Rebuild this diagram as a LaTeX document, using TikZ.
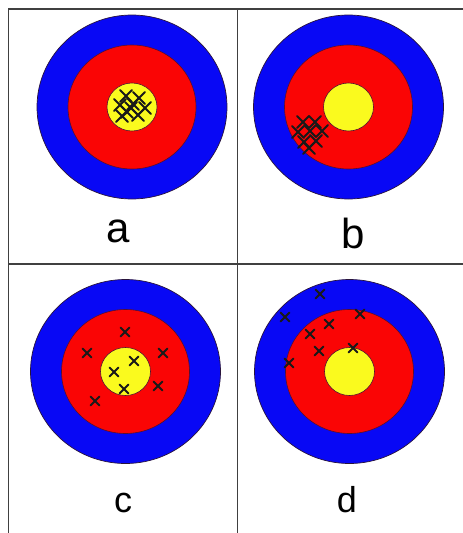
\documentclass[tikz,border=0pt]{standalone}
\usepackage{fontspec}
\setmainfont{Liberation Sans}
\definecolor{tblue}{RGB}{8,8,245}
\definecolor{tred}{RGB}{250,5,5}
\definecolor{tyellow}{RGB}{250,250,30}
\definecolor{tedge}{RGB}{40,20,60}
\tikzset{
  frameline/.style={line width=1.5pt, draw=black!75},
  ringblue/.style={fill=tblue, draw=tedge, line width=0.7pt},
  ringred/.style={fill=tred, draw=tedge!80!red, line width=0.6pt},
  ringyellow/.style={fill=tyellow, draw=tedge!80!red, line width=0.6pt},
  crossline/.style={line width=1.9pt, draw=black!90, line cap=round},
  smallcross/.style={line width=1.8pt, draw=black!90, line cap=round},
  toplabel/.style={font=\fontsize{42}{46}\selectfont, anchor=base, inner sep=0pt},
  botlabel/.style={font=\fontsize{36}{40}\selectfont, anchor=base, inner sep=0pt},
}
\newcommand\drawtarget[1]{%
  \filldraw[ringblue] (#1) ellipse [x radius=95pt, y radius=92pt];
  \filldraw[ringred] (#1) ellipse [x radius=64pt, y radius=62pt];
  \filldraw[ringyellow] (#1) ellipse [x radius=25pt, y radius=24pt];
}
\newcommand\crossat[2]{\draw[crossline,shift={(#1,#2)}] (-4.5,-4.5) -- (4.5,4.5) (-4.5,4.5) -- (4.5,-4.5);}
\newcommand\crossbig[2]{\draw[smallcross,shift={(#1,#2)}] (-6,-6) -- (6,6) (-6,6) -- (6,-6);}
\begin{document}
\begin{tikzpicture}[x=1pt,y=-1pt]
\useasboundingbox (0,0) rectangle (463,533);
\fill[white] (0,0) rectangle (463,533);
% frame
\draw[frameline] (8.5,533) -- (8.5,9) -- (463,9);
\draw[frameline] (8.5,264) -- (463,264);
\draw[frameline] (237.5,9) -- (237.5,533);
% targets
\coordinate (ca) at (132,107);
\coordinate (cb) at (348.5,107);
\coordinate (cc) at (125.5,371.5);
\coordinate (cd) at (349.5,371.5);
\drawtarget{ca}
\drawtarget{cb}
\drawtarget{cc}
\drawtarget{cd}
% a: tight cluster in the centre
\crossbig{126}{96}
\crossbig{139}{98}
\crossbig{120}{105}
\crossbig{133}{104}
\crossbig{145}{108}
\crossbig{127}{112}
\crossbig{138}{115}
\crossbig{131}{108}
\crossbig{122}{116}
% b: tight cluster off centre
\crossbig{303}{122}
\crossbig{315}{122}
\crossbig{298}{132}
\crossbig{310}{131}
\crossbig{322}{131}
\crossbig{304}{142}
\crossbig{316}{141}
\crossbig{309}{148}
% c: spread around centre
\crossat{125}{332}
\crossat{87}{353}
\crossat{163}{353}
\crossat{134}{361}
\crossat{114}{372}
\crossat{158}{386}
\crossat{124}{389}
\crossat{95}{401}
% d: spread off centre
\crossat{320}{294}
\crossat{285}{317}
\crossat{360}{314}
\crossat{329}{324}
\crossat{310}{334}
\crossat{319}{351}
\crossat{353}{348}
\crossat{289}{363}
% labels
\node[toplabel] (la) at (118,242) {a};
\node[toplabel] (lb) at (353,248) {b};
\node[botlabel] (lc) at (123,512) {c};
\node[botlabel] (ld) at (347,512) {d};
\end{tikzpicture}
\end{document}
